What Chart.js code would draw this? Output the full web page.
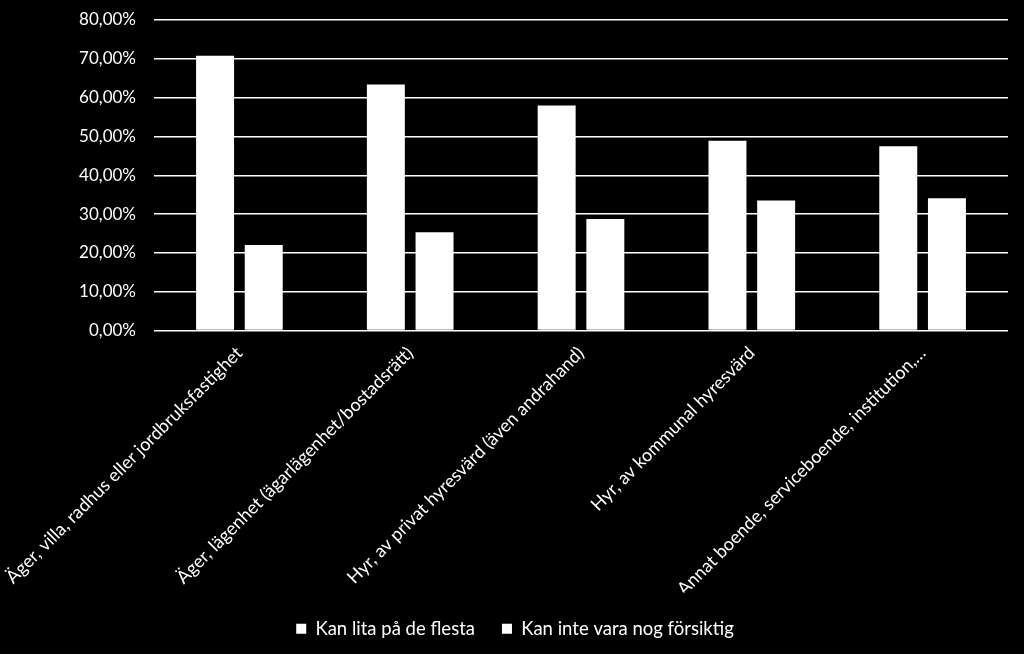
<!DOCTYPE html>
<html>
<head>
<meta charset="utf-8">
<script src="https://cdn.jsdelivr.net/npm/chart.js@4"></script>
<style>
  html, body { margin: 0; padding: 0; background: #000; }
  #wrap { width: 1024px; height: 654px; }
</style>
</head>
<body>
<div id="wrap"><canvas id="trustChart"></canvas></div>
<script>
const categories = [
  'Äger, villa, radhus eller jordbruksfastighet',
  'Äger, lägenhet (ägarlägenhet/bostadsrätt)',
  'Hyr, av privat hyresvärd (även andrahand)',
  'Hyr, av kommunal hyresvärd',
  'Annat boende, serviceboende, institution,…'
];
const seriesNames = ['Kan lita på de flesta', 'Kan inte vara nog försiktig'];
const litaValues = [70.8, 63.4, 58.0, 48.9, 47.5];
const forsiktigValues = [22.0, 25.3, 28.7, 33.5, 34.1];
const yTicks = [0, 10, 20, 30, 40, 50, 60, 70, 80];

const fontFamily = 'Lato, "Open Sans", sans-serif';

const ctx = document.getElementById('trustChart').getContext('2d');
const trustChart = new Chart(ctx, {
  type: 'bar',
  data: {
    labels: categories,
    datasets: [{
      label: seriesNames[0],
      data: litaValues,
      backgroundColor: '#ffffff',
      borderWidth: 0,
      categoryPercentage: 0.57,
      barPercentage: 0.78
    }, {
      label: seriesNames[1],
      data: forsiktigValues,
      backgroundColor: '#ffffff',
      borderWidth: 0,
      categoryPercentage: 0.57,
      barPercentage: 0.78
    }]
  },
  options: {
    maintainAspectRatio: false,
    animation: false,
    layout: {
      padding: { left: 22, right: 16, top: 20, bottom: 6 }
    },
    plugins: {
      tooltip: { enabled: false },
      legend: {
        position: 'bottom',
        labels: {
          color: '#ffffff',
          boxWidth: 10,
          boxHeight: 10,
          padding: 27,
          font: { size: 18.5, family: fontFamily }
        }
      }
    },
    scales: {
      x: {
        grid: { display: false, drawTicks: false },
        border: { display: false },
        ticks: {
          color: '#ffffff',
          autoSkip: false,
          maxRotation: 45,
          minRotation: 45,
          padding: 12,
          font: { size: 18, family: fontFamily }
        },
        afterFit: (scale) => {
          scale.paddingLeft = 0;
          scale.paddingRight = 0;
          scale.height = 262;
        }
      },
      y: {
        min: 0,
        max: 80,
        afterBuildTicks: (scale) => {
          scale.ticks = yTicks.map(v => ({ value: v }));
        },
        grid: {
          color: '#ffffff',
          lineWidth: 1.5,
          drawTicks: false
        },
        border: { display: false },
        ticks: {
          color: '#ffffff',
          padding: 18,
          font: { size: 17, family: fontFamily },
          callback: (value) => value.toFixed(2).replace('.', ',') + '%'
        },
        afterFit: (scale) => {
          scale.width = 132;
          scale.paddingTop = 0;
          scale.paddingBottom = 0;
        }
      }
    }
  }
});
</script>
</body>
</html>
